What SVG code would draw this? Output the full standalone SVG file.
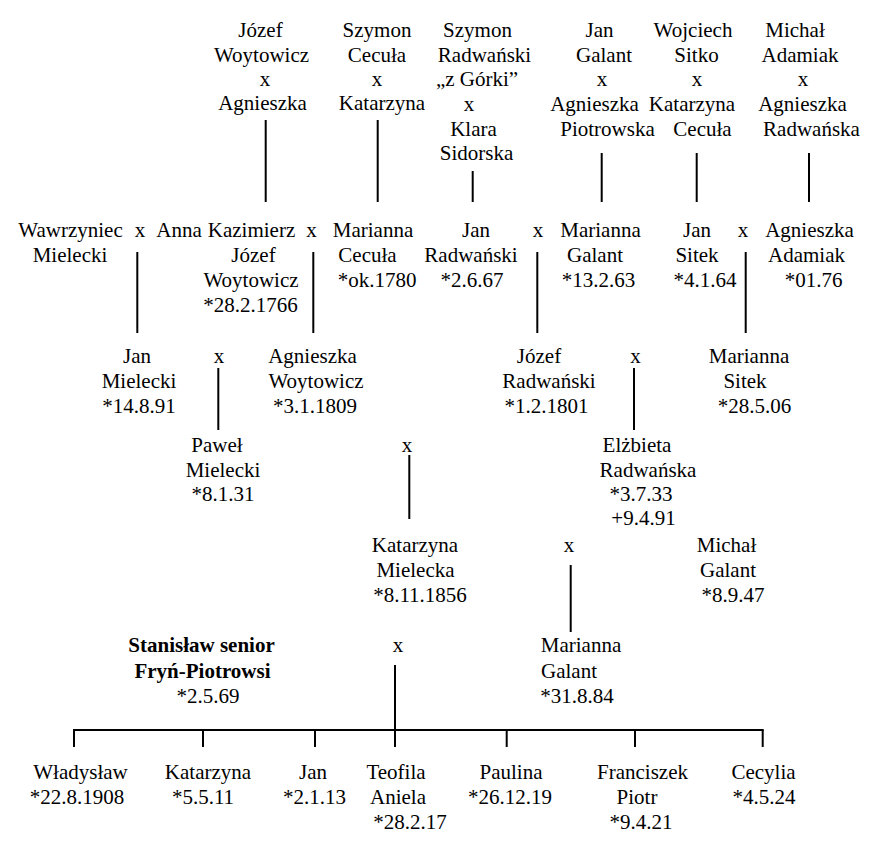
<svg xmlns="http://www.w3.org/2000/svg" width="876" height="844" viewBox="0 0 876 844">
<style>
text{font-family:'Liberation Serif',Tinos,'Times New Roman',Times,'DejaVu Serif',serif;font-size:21px;fill:#000;text-anchor:middle}
.b{font-weight:bold}
#connectors line{stroke:#000;stroke-width:2}
</style>
<rect width="876" height="844" fill="#fff"/>
<g id="connectors">
<line x1="265.7" y1="120" x2="265.7" y2="202"/>
<line x1="377.7" y1="120" x2="377.7" y2="202"/>
<line x1="472.7" y1="171" x2="472.7" y2="202"/>
<line x1="601.7" y1="153" x2="601.7" y2="202"/>
<line x1="696.7" y1="153" x2="696.7" y2="202"/>
<line x1="809" y1="153" x2="809" y2="202"/>
<line x1="137.3" y1="252" x2="137.3" y2="333"/>
<line x1="313.3" y1="252" x2="313.3" y2="333"/>
<line x1="537.3" y1="252" x2="537.3" y2="333"/>
<line x1="745.7" y1="252" x2="745.7" y2="333"/>
<line x1="218.3" y1="368" x2="218.3" y2="430"/>
<line x1="634" y1="368" x2="634" y2="430"/>
<line x1="409.3" y1="455" x2="409.3" y2="519"/>
<line x1="570.7" y1="565" x2="570.7" y2="632"/>
<line x1="395" y1="665" x2="395" y2="747"/>
<line x1="73" y1="730" x2="763.7" y2="730"/>
<line x1="74" y1="730" x2="74" y2="747"/>
<line x1="203" y1="730" x2="203" y2="747"/>
<line x1="315" y1="730" x2="315" y2="747"/>
<line x1="506.7" y1="730" x2="506.7" y2="747"/>
<line x1="635" y1="730" x2="635" y2="747"/>
<line x1="762.7" y1="730" x2="762.7" y2="747"/>
</g>
<g font-family="Liberation Serif, Times New Roman, serif">
<g id="couple-woytowicz-agnieszka">
<text x="260.5" y="37">Józef</text><text x="261.5" y="62">Woytowicz</text><text x="265" y="86">x</text><text x="262.5" y="110">Agnieszka</text>
</g>
<g id="couple-cecula-katarzyna">
<text x="377" y="37">Szymon</text><text x="377" y="62">Cecuła</text><text x="377" y="86">x</text><text x="382" y="110">Katarzyna</text>
</g>
<g id="couple-radwanski-sidorska">
<text x="477.5" y="37">Szymon</text><text x="484.5" y="62">Radwański</text><text x="477" y="86">„z Górki”</text><text x="469" y="111">x</text><text x="473.5" y="136">Klara</text><text x="476.5" y="160">Sidorska</text>
</g>
<g id="couple-galant-piotrowska">
<text x="599.5" y="37">Jan</text><text x="604" y="62">Galant</text><text x="602" y="86">x</text><text x="594.5" y="111">Agnieszka</text><text x="607.5" y="136">Piotrowska</text>
</g>
<g id="couple-sitko-cecula">
<text x="693" y="37">Wojciech</text><text x="696.5" y="62">Sitko</text><text x="697" y="86">x</text><text x="692" y="111">Katarzyna</text><text x="702.5" y="136">Cecuła</text>
</g>
<g id="couple-adamiak-radwanska">
<text x="795" y="37">Michał</text><text x="800" y="62">Adamiak</text><text x="803" y="86">x</text><text x="802.5" y="111">Agnieszka</text><text x="811.5" y="136">Radwańska</text>
</g>
<g id="wawrzyniec-mielecki">
<text x="70.5" y="237">Wawrzyniec</text><text x="70" y="262">Mielecki</text>
</g>
<g id="x-wawrzyniec-anna"><text x="140" y="237">x</text></g>
<g id="anna"><text x="179" y="237">Anna</text></g>
<g id="kazimierz-jozef-woytowicz">
<text x="251.5" y="237">Kazimierz</text><text x="253.5" y="262">Józef</text><text x="251" y="287">Woytowicz</text><text x="250.5" y="312">*28.2.1766</text>
</g>
<g id="x-kazimierz-marianna"><text x="311.5" y="237">x</text></g>
<g id="marianna-cecula">
<text x="373" y="237">Marianna</text><text x="367.5" y="262">Cecuła</text><text x="377" y="287">*ok.1780</text>
</g>
<g id="jan-radwanski">
<text x="476" y="237">Jan</text><text x="471" y="262">Radwański</text><text x="472" y="287">*2.6.67</text>
</g>
<g id="x-jan-marianna"><text x="538" y="237">x</text></g>
<g id="marianna-galant-1">
<text x="600.5" y="237">Marianna</text><text x="595" y="262">Galant</text><text x="598.5" y="287">*13.2.63</text>
</g>
<g id="jan-sitek">
<text x="697" y="237">Jan</text><text x="697" y="262">Sitek</text><text x="705" y="287">*4.1.64</text>
</g>
<g id="x-jan-agnieszka"><text x="743" y="237">x</text></g>
<g id="agnieszka-adamiak">
<text x="809.5" y="237">Agnieszka</text><text x="806.5" y="262">Adamiak</text><text x="813.5" y="287">*01.76</text>
</g>
<g id="jan-mielecki">
<text x="137" y="363">Jan</text><text x="139" y="388">Mielecki</text><text x="139" y="413">*14.8.91</text>
</g>
<g id="x-jan-agnieszka-w"><text x="219" y="363">x</text></g>
<g id="agnieszka-woytowicz">
<text x="312.5" y="363">Agnieszka</text><text x="316" y="388">Woytowicz</text><text x="315" y="413">*3.1.1809</text>
</g>
<g id="jozef-radwanski">
<text x="539" y="363">Józef</text><text x="549" y="388">Radwański</text><text x="546.5" y="413">*1.2.1801</text>
</g>
<g id="x-jozef-marianna"><text x="635.5" y="363">x</text></g>
<g id="marianna-sitek">
<text x="749" y="363">Marianna</text><text x="745" y="388">Sitek</text><text x="754.5" y="413">*28.5.06</text>
</g>
<g id="pawel-mielecki">
<text x="217" y="451.5">Paweł</text><text x="223" y="476.5">Mielecki</text><text x="223" y="501">*8.1.31</text>
</g>
<g id="x-pawel-elzbieta"><text x="407" y="451.5">x</text></g>
<g id="elzbieta-radwanska">
<text x="637" y="451.5">Elżbieta</text><text x="648" y="476.5">Radwańska</text><text x="641" y="501">*3.7.33</text><text x="643.5" y="525">+9.4.91</text>
</g>
<g id="katarzyna-mielecka">
<text x="415" y="552">Katarzyna</text><text x="415.5" y="577">Mielecka</text><text x="420" y="602">*8.11.1856</text>
</g>
<g id="x-katarzyna-michal"><text x="569" y="552">x</text></g>
<g id="michal-galant">
<text x="726.5" y="552">Michał</text><text x="728" y="577">Galant</text><text x="733" y="602">*8.9.47</text>
</g>
<g id="stanislaw-senior">
<text class="b" x="201.5" y="652">Stanisław senior</text><text class="b" x="202.5" y="677.5">Fryń-Piotrowsi</text><text x="208" y="702.5">*2.5.69</text>
</g>
<g id="x-stanislaw-marianna"><text x="398" y="652">x</text></g>
<g id="marianna-galant-2">
<text x="581" y="652">Marianna</text><text x="569" y="677.5">Galant</text><text x="577" y="702.5">*31.8.84</text>
</g>
<g id="wladyslaw"><text x="80.5" y="778.5">Władysław</text><text x="77" y="803.5">*22.8.1908</text></g>
<g id="katarzyna"><text x="208" y="778.5">Katarzyna</text><text x="203" y="803.5">*5.5.11</text></g>
<g id="jan"><text x="313" y="778.5">Jan</text><text x="314.5" y="803.5">*2.1.13</text></g>
<g id="teofila-aniela"><text x="396" y="778.5">Teofila</text><text x="398" y="803.5">Aniela</text><text x="410" y="828.5">*28.2.17</text></g>
<g id="paulina"><text x="511" y="778.5">Paulina</text><text x="510" y="803.5">*26.12.19</text></g>
<g id="franciszek-piotr"><text x="642.5" y="778.5">Franciszek</text><text x="637" y="803.5">Piotr</text><text x="641" y="828.5">*9.4.21</text></g>
<g id="cecylia"><text x="763.5" y="778.5">Cecylia</text><text x="764" y="803.5">*4.5.24</text></g>
</g>
</svg>
